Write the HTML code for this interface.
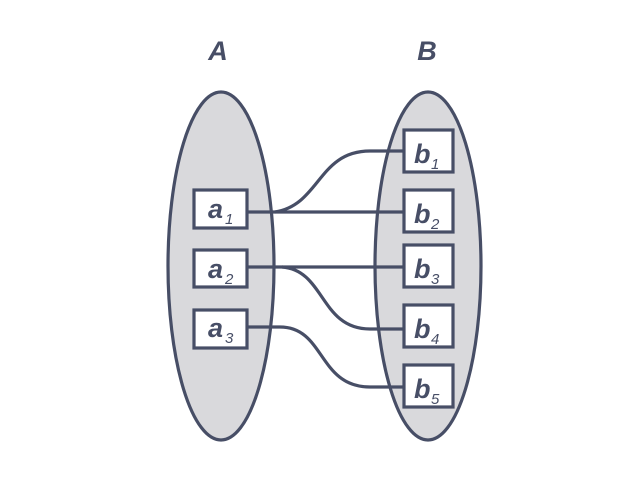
<!DOCTYPE html>
<html><head><style>body{margin:0;background:#fff}</style></head><body>
<svg width="640" height="480" viewBox="0 0 640 480" xmlns="http://www.w3.org/2000/svg">
<g stroke="#474e66" stroke-width="3.2" fill="#d9d9dc">
<ellipse cx="221" cy="266" rx="53" ry="174"/>
<ellipse cx="428" cy="266" rx="53" ry="174"/>
</g>
<g stroke="#474e66" stroke-width="3.2" fill="none">
<path d="M247 212 H403"/>
<path d="M275 212 C320 205 318 151 370 151 H403"/>
<path d="M247 267 H403"/>
<path d="M282 267 C325 270 320 329 370 329 H403"/>
<path d="M247 327 H280 C325 327 318 387 370 387 H403"/>
</g>
<g stroke="#474e66" stroke-width="3.2" fill="#fff">
<rect x="194" y="190" width="53" height="38"/>
<rect x="194" y="250" width="53" height="37"/>
<rect x="194" y="310" width="53" height="38"/>
<rect x="404" y="130" width="49" height="42"/>
<rect x="404" y="190" width="49" height="42"/>
<rect x="404" y="245" width="49" height="42"/>
<rect x="404" y="305" width="49" height="42"/>
<rect x="404" y="365" width="49" height="42"/>
</g>
<g fill="#474e66" font-family="Liberation Sans, sans-serif" font-style="italic" font-weight="bold">
<text x="218" y="60" font-size="27" text-anchor="middle">A</text>
<text x="427" y="60" font-size="27" text-anchor="middle">B</text>
<g font-size="27"><text x="208" y="218">a</text><text x="208" y="278">a</text><text x="208" y="337">a</text>
<text x="414" y="163">b</text><text x="414" y="223">b</text><text x="414" y="278">b</text><text x="414" y="338">b</text><text x="414" y="398">b</text></g>
<g font-size="15" font-weight="normal"><text x="225" y="224">1</text><text x="225" y="284">2</text><text x="225" y="343">3</text>
<text x="431" y="169">1</text><text x="431" y="229">2</text><text x="431" y="284">3</text><text x="431" y="344">4</text><text x="431" y="404">5</text></g>
</g>
</svg>
</body></html>
